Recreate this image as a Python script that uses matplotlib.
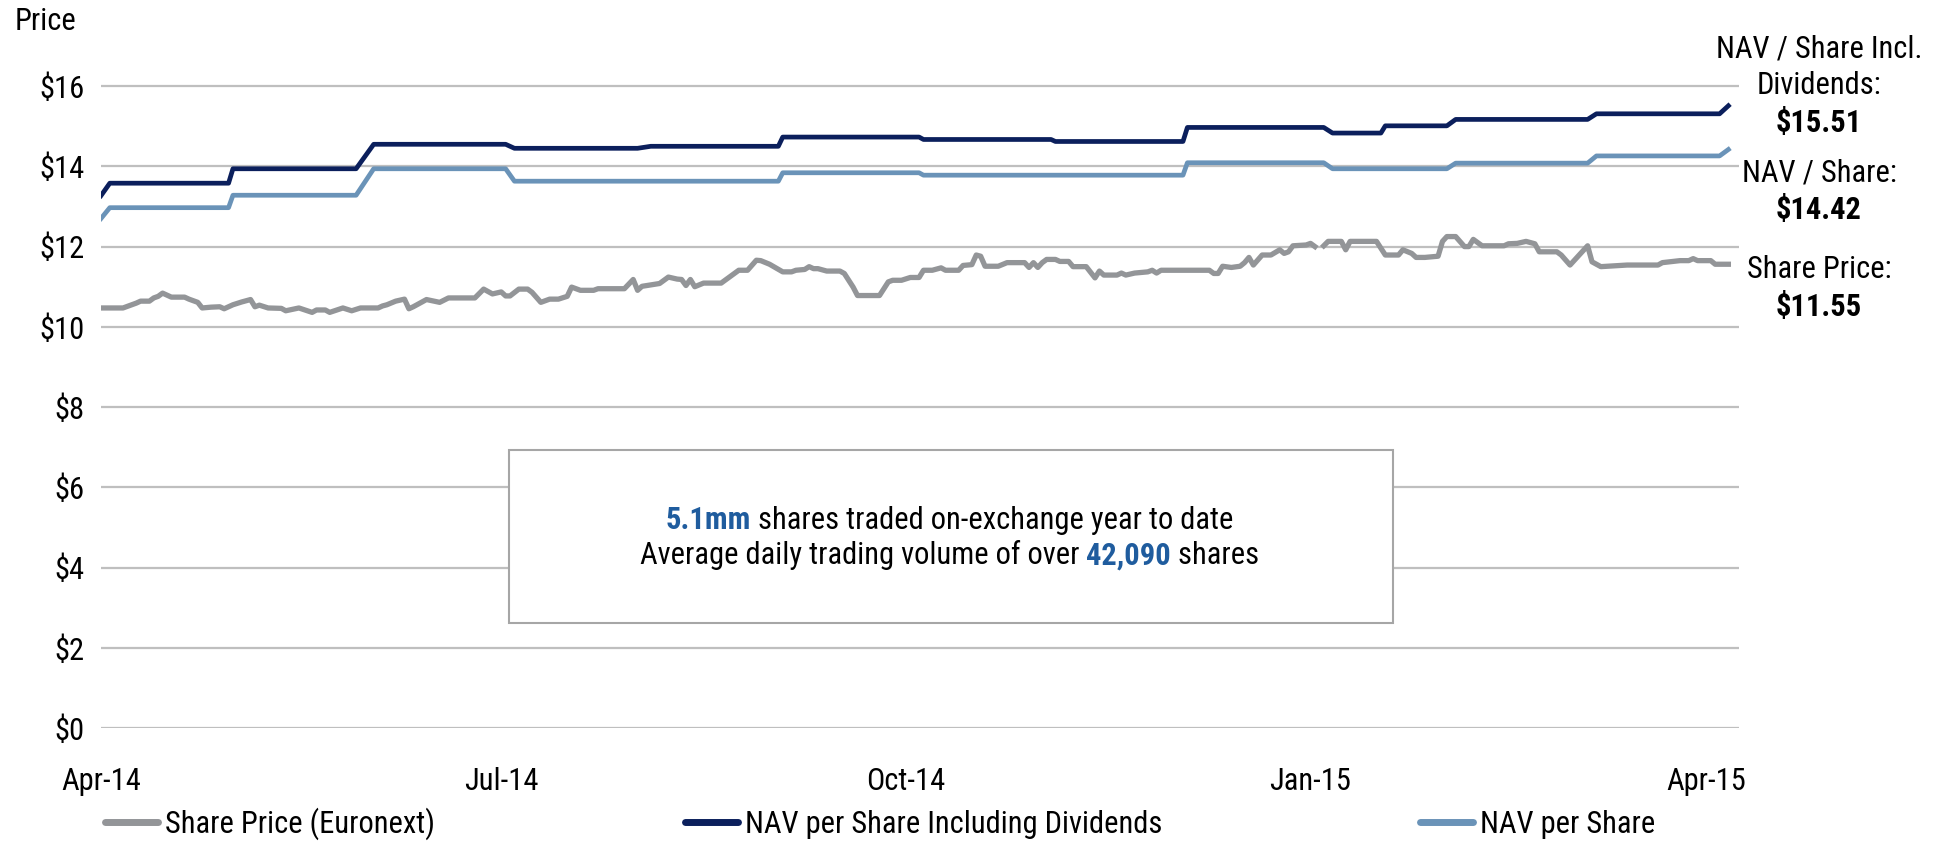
import numpy as np
import pandas as pd
import matplotlib
matplotlib.use('Agg')
import matplotlib.pyplot as plt
import matplotlib.dates as mdates
from matplotlib import font_manager as fm
from matplotlib.offsetbox import TextArea, HPacker, VPacker, AnnotationBbox
from matplotlib.patches import Rectangle
from matplotlib.lines import Line2D

# narrow sans like the original (Arial Narrow); take the first one that is installed
installed = {f.name for f in fm.fontManager.ttflist}
prefs = ['Liberation Sans Narrow', 'Arial Narrow', 'Roboto Condensed', 'Pragati Narrow', 'Archivo Narrow']
narrow = [p for p in prefs if p in installed][:1]
plt.rcParams['font.family'] = narrow + ['DejaVu Sans']

# NAV per share including dividends (vertices of the monthly steps)
nav_div_dates = ['2014-04-01', '2014-04-03', '2014-04-30', '2014-05-01', '2014-05-29', '2014-06-02',
                 '2014-07-02', '2014-07-04', '2014-08-01', '2014-08-04', '2014-09-02', '2014-09-03',
                 '2014-10-04', '2014-10-05', '2014-11-03', '2014-11-04', '2014-12-03', '2014-12-04',
                 '2015-01-04', '2015-01-06', '2015-01-17', '2015-01-18', '2015-02-01', '2015-02-03',
                 '2015-03-05', '2015-03-07', '2015-04-04', '2015-04-06']
nav_div = [13.27, 13.58, 13.58, 13.94, 13.94, 14.55,
           14.55, 14.45, 14.45, 14.50, 14.50, 14.73,
           14.73, 14.67, 14.67, 14.62, 14.62, 14.97,
           14.97, 14.83, 14.83, 15.01, 15.01, 15.17,
           15.17, 15.31, 15.31, 15.51]

# NAV per share
nav_dates = ['2014-04-01', '2014-04-03', '2014-04-30', '2014-05-01', '2014-05-29', '2014-06-02',
             '2014-07-02', '2014-07-04', '2014-09-02', '2014-09-03', '2014-10-04', '2014-10-05',
             '2014-12-03', '2014-12-04', '2015-01-04', '2015-01-06', '2015-02-01', '2015-02-03',
             '2015-03-05', '2015-03-07', '2015-04-04', '2015-04-06']
nav = [12.70, 12.97, 12.97, 13.28, 13.28, 13.94,
       13.94, 13.63, 13.63, 13.84, 13.84, 13.78,
       13.78, 14.09, 14.09, 13.94, 13.94, 14.08,
       14.08, 14.26, 14.26, 14.42]

# Share price (Euronext)
price_dates = [
    '2014-04-01', '2014-04-06', '2014-04-09', '2014-04-10', '2014-04-12', '2014-04-13', '2014-04-14',
    '2014-04-15', '2014-04-17', '2014-04-20', '2014-04-21', '2014-04-23', '2014-04-24', '2014-04-26',
    '2014-04-28', '2014-04-29',
    '2014-05-01', '2014-05-03', '2014-05-05', '2014-05-06', '2014-05-07', '2014-05-09', '2014-05-12',
    '2014-05-13', '2014-05-16', '2014-05-19', '2014-05-20', '2014-05-22', '2014-05-23', '2014-05-26',
    '2014-05-28', '2014-05-30',
    '2014-06-03', '2014-06-04', '2014-06-05', '2014-06-07', '2014-06-09', '2014-06-10', '2014-06-11',
    '2014-06-14', '2014-06-17', '2014-06-19', '2014-06-25', '2014-06-27', '2014-06-29',
    '2014-07-01', '2014-07-02', '2014-07-03', '2014-07-05', '2014-07-07', '2014-07-08', '2014-07-10',
    '2014-07-12', '2014-07-14', '2014-07-16', '2014-07-17', '2014-07-19', '2014-07-22', '2014-07-23',
    '2014-07-29', '2014-07-31',
    '2014-08-01', '2014-08-02', '2014-08-06', '2014-08-08', '2014-08-10', '2014-08-11', '2014-08-12',
    '2014-08-13', '2014-08-14', '2014-08-16', '2014-08-20', '2014-08-24', '2014-08-26', '2014-08-28',
    '2014-08-29', '2014-08-31',
    '2014-09-03', '2014-09-05', '2014-09-06', '2014-09-08', '2014-09-09', '2014-09-10', '2014-09-11',
    '2014-09-13', '2014-09-16', '2014-09-17', '2014-09-19', '2014-09-20', '2014-09-25', '2014-09-27',
    '2014-09-28', '2014-09-30',
    '2014-10-02', '2014-10-04', '2014-10-05', '2014-10-07', '2014-10-09', '2014-10-10', '2014-10-13',
    '2014-10-14', '2014-10-16', '2014-10-17', '2014-10-18', '2014-10-19', '2014-10-22', '2014-10-24',
    '2014-10-28', '2014-10-29', '2014-10-30', '2014-10-31',
    '2014-11-01', '2014-11-02', '2014-11-04', '2014-11-05', '2014-11-07', '2014-11-08', '2014-11-11',
    '2014-11-13', '2014-11-14', '2014-11-15', '2014-11-18', '2014-11-19', '2014-11-20', '2014-11-22',
    '2014-11-25', '2014-11-26', '2014-11-27', '2014-11-28',
    '2014-12-09', '2014-12-10', '2014-12-11', '2014-12-12', '2014-12-14', '2014-12-16', '2014-12-17',
    '2014-12-18', '2014-12-19', '2014-12-21', '2014-12-23', '2014-12-25', '2014-12-26', '2014-12-27',
    '2014-12-28', '2014-12-31',
    '2015-01-01', '2015-01-02', '2015-01-03', '2015-01-04', '2015-01-05', '2015-01-08', '2015-01-09',
    '2015-01-10', '2015-01-16', '2015-01-18', '2015-01-21', '2015-01-22', '2015-01-24', '2015-01-25',
    '2015-01-27', '2015-01-30', '2015-01-31',
    '2015-02-01', '2015-02-03', '2015-02-05', '2015-02-06', '2015-02-07', '2015-02-09', '2015-02-14',
    '2015-02-15', '2015-02-17', '2015-02-19', '2015-02-21', '2015-02-22', '2015-02-26', '2015-02-27',
    '2015-03-01', '2015-03-05', '2015-03-06', '2015-03-08', '2015-03-14', '2015-03-21', '2015-03-22',
    '2015-03-26', '2015-03-28', '2015-03-29', '2015-03-30',
    '2015-04-02', '2015-04-03', '2015-04-06']
price = [
    10.47, 10.47, 10.59, 10.64, 10.64, 10.72, 10.76,
    10.84, 10.74, 10.74, 10.69, 10.61, 10.47, 10.49,
    10.50, 10.45,
    10.55, 10.62, 10.68, 10.50, 10.54, 10.47, 10.46,
    10.40, 10.47, 10.36, 10.42, 10.42, 10.36, 10.47,
    10.40, 10.47,
    10.47, 10.52, 10.55, 10.64, 10.69, 10.45, 10.50,
    10.68, 10.61, 10.72, 10.72, 10.94, 10.82,
    10.87, 10.77, 10.77, 10.94, 10.94, 10.86, 10.61,
    10.69, 10.69, 10.76, 10.99, 10.91, 10.91, 10.95,
    10.95, 11.18,
    10.91, 11.01, 11.08, 11.24, 11.19, 11.18, 11.03,
    11.18, 11.00, 11.09, 11.09, 11.41, 11.41, 11.66,
    11.65, 11.56,
    11.37, 11.37, 11.41, 11.43, 11.50, 11.45, 11.45,
    11.39, 11.39, 11.33, 10.99, 10.78, 10.78, 11.12,
    11.16, 11.16,
    11.23, 11.23, 11.41, 11.41, 11.47, 11.41, 11.41,
    11.53, 11.55, 11.79, 11.76, 11.51, 11.51, 11.60,
    11.60, 11.48, 11.60, 11.48,
    11.60, 11.68, 11.68, 11.63, 11.63, 11.50, 11.50,
    11.22, 11.39, 11.29, 11.29, 11.34, 11.29, 11.34,
    11.37, 11.41, 11.34, 11.41,
    11.41, 11.33, 11.33, 11.51, 11.48, 11.51, 11.60,
    11.73, 11.54, 11.79, 11.79, 11.92, 11.83, 11.87,
    12.02, 12.04,
    12.08, 12.00, np.nan, 12.02, 12.13, 12.13, 11.92,
    12.13, 12.13, 11.79, 11.79, 11.92, 11.83, 11.73,
    11.73, 11.76, 12.13,
    12.25, 12.25, 12.00, 12.00, 12.18, 12.02, 12.02,
    12.07, 12.08, 12.13, 12.07, 11.87, 11.87, 11.79,
    11.54, 12.02, 11.62, 11.50, 11.54, 11.54, 11.60,
    11.65, 11.65, 11.70, 11.65,
    11.65, 11.56, 11.56]

xticks = ['2014-04-01', '2014-07-01', '2014-10-01', '2015-01-01', '2015-04-01']
yticks = [0, 2, 4, 6, 8, 10, 12, 14, 16]

GRAY = '#939598'
NAVY = '#0B1F5C'
LIGHT = '#6A93B8'
BLUE_TXT = '#1F5C9E'
FS = 22

fig = plt.figure(figsize=(19.34, 8.47), dpi=100)
ax = fig.add_axes([101 / 1934, 1 - 728 / 847, (1739 - 101) / 1934, (728 - 46) / 847])

ax.plot(pd.to_datetime(price_dates), price, color=GRAY, lw=3.8, solid_joinstyle='round', zorder=3)
ax.plot(pd.to_datetime(nav_div_dates), nav_div, color=NAVY, lw=3.4, solid_joinstyle='round', zorder=3)
ax.plot(pd.to_datetime(nav_dates), nav, color=LIGHT, lw=3.4, solid_joinstyle='round', zorder=3)

ax.set_xlim(pd.Timestamp('2014-04-01'), pd.Timestamp('2015-04-08 10:00'))
ax.set_ylim(0, 17)
ax.set_xticks(pd.to_datetime(xticks))
ax.xaxis.set_major_formatter(mdates.DateFormatter('%b-%y'))
ax.set_yticks(yticks)
ax.set_yticklabels(['$%d' % v for v in yticks])
ax.tick_params(axis='both', length=0, labelsize=FS)
ax.tick_params(axis='x', pad=28)
ax.tick_params(axis='y', pad=12)
for s in ax.spines.values():
    s.set_visible(False)
ax.grid(axis='y', color='#BFBFBF', lw=1.6)
ax.set_axisbelow(True)

fig.text(15 / 1934, 1 - 22 / 847, 'Price', fontsize=FS, va='center', ha='left')

# text box
ax.add_patch(Rectangle((0.249, 0.154), 0.54, 0.254, transform=ax.transAxes,
                       fc='white', ec='#A6A6A6', lw=1.5, zorder=2))
line1 = HPacker(children=[TextArea('5.1mm', textprops=dict(color=BLUE_TXT, weight='bold', fontsize=FS)),
                          TextArea(' shares traded on-exchange year to date', textprops=dict(fontsize=FS))],
                pad=0, sep=0, align='baseline')
line2 = HPacker(children=[TextArea('Average daily trading volume of over ', textprops=dict(fontsize=FS)),
                          TextArea('42,090', textprops=dict(color=BLUE_TXT, weight='bold', fontsize=FS)),
                          TextArea(' shares', textprops=dict(fontsize=FS))],
                pad=0, sep=0, align='baseline')
box = VPacker(children=[line1, line2], pad=0, sep=4, align='center')
ax.add_artist(AnnotationBbox(box, (0.518, 0.279), xycoords='axes fraction',
                             frameon=False, box_alignment=(0.5, 0.5), zorder=4))

# right side labels
xr = 1819 / 1934
for txt, yp, bold in [('NAV / Share Incl.', 49, False), ('Dividends:', 86, False), ('$15.51', 123, True),
                      ('NAV / Share:', 173, False), ('$14.42', 210, True),
                      ('Share Price:', 270, False), ('$11.55', 307, True)]:
    fig.text(xr, 1 - yp / 847, txt, fontsize=FS, ha='center', va='center',
             weight='bold' if bold else 'normal')

# legend
for lab, col, xs in [('Share Price (Euronext)', GRAY, 105), ('NAV per Share Including Dividends', NAVY, 685),
                     ('NAV per Share', LIGHT, 1420)]:
    h = Line2D([], [], color=col, lw=5, solid_capstyle='round')
    leg = fig.legend(handles=[h], labels=[lab], loc='center left', bbox_to_anchor=(xs / 1934, 1 - 824 / 847),
                     frameon=False, fontsize=FS, handlelength=1.75, handletextpad=0.2,
                     borderpad=0, borderaxespad=0)

fig.savefig('out.png', dpi=100)
